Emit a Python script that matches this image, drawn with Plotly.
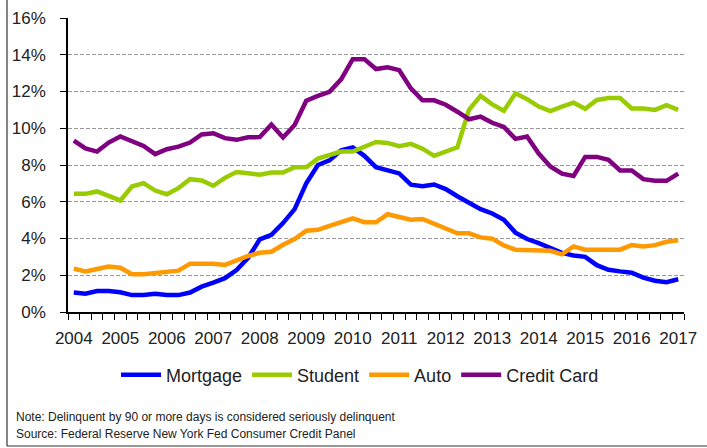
import plotly.graph_objects as go

# quarterly, 2004Q1 .. 2017Q1 (53 quarters), percent of balance 90+ days delinquent
years = [str(y) for y in range(2004, 2018)]

mortgage = [1.06, 0.99, 1.14, 1.14, 1.07, 0.92, 0.92, 0.99, 0.92, 0.92, 1.06, 1.38, 1.60,
            1.84, 2.28, 2.95, 3.95, 4.20, 4.84, 5.60, 7.00, 8.00, 8.25, 8.80, 8.95, 8.50,
            7.88, 7.70, 7.54, 6.93, 6.85, 6.94, 6.69, 6.30, 5.96, 5.60, 5.36, 5.02, 4.32,
            3.97, 3.75, 3.47, 3.22, 3.08, 3.00, 2.55, 2.30, 2.21, 2.14, 1.87, 1.70, 1.62, 1.78]
student = [6.43, 6.43, 6.56, 6.34, 6.07, 6.83, 7.01, 6.61, 6.41, 6.74, 7.23, 7.16, 6.87,
           7.30, 7.62, 7.55, 7.47, 7.59, 7.59, 7.88, 7.88, 8.35, 8.53, 8.73, 8.73, 9.00,
           9.25, 9.20, 9.02, 9.15, 8.89, 8.50, 8.72, 8.96, 11.00, 11.76, 11.30, 10.95, 11.90,
           11.58, 11.18, 10.93, 11.18, 11.39, 11.06, 11.54, 11.64, 11.64, 11.08, 11.08, 11.00, 11.26, 11.00]
auto = [2.36, 2.21, 2.34, 2.48, 2.41, 2.05, 2.05, 2.10, 2.17, 2.25, 2.63, 2.63, 2.63,
        2.56, 2.81, 3.05, 3.22, 3.28, 3.66, 3.97, 4.42, 4.47, 4.69, 4.92, 5.10, 4.89,
        4.88, 5.32, 5.17, 5.02, 5.06, 4.82, 4.54, 4.28, 4.28, 4.06, 3.99, 3.62, 3.39,
        3.39, 3.39, 3.33, 3.14, 3.57, 3.39, 3.39, 3.39, 3.39, 3.64, 3.56, 3.64, 3.82, 3.90]
credit_card = [9.33, 8.90, 8.73, 9.22, 9.55, 9.28, 9.04, 8.59, 8.86, 9.00, 9.22, 9.66, 9.73,
               9.46, 9.37, 9.51, 9.52, 10.20, 9.50, 10.18, 11.50, 11.76, 11.98, 12.66, 13.76, 13.76,
               13.22, 13.32, 13.16, 12.17, 11.52, 11.52, 11.28, 10.90, 10.49, 10.63, 10.30, 10.07, 9.42,
               9.55, 8.62, 7.92, 7.53, 7.40, 8.44, 8.44, 8.28, 7.70, 7.70, 7.23, 7.14, 7.14, 7.53]

series = [("Mortgage", mortgage, "#0000ff"),
          ("Student", student, "#99cc00"),
          ("Auto", auto, "#ff9900"),
          ("Credit Card", credit_card, "#800080")]

FONT = "Liberation Sans, Arial, sans-serif"
W, H = 707, 448
L, R, T, B = 68, 23, 18, 136
pw, ph = W - L - R, H - T - B

def px(x):
    return (x - L) / pw

def py(y):
    return (H - B - y) / ph

q = list(range(len(mortgage)))

fig = go.Figure()
for name, vals, col in series:
    fig.add_trace(go.Scatter(x=q, y=[v / 100 for v in vals], mode="lines", name=name,
                             line=dict(color=col, width=4.5)))

fig.update_layout(
    width=W, height=H,
    margin=dict(l=L, r=R, t=T, b=B),
    paper_bgcolor="white", plot_bgcolor="white",
    font=dict(family=FONT, size=17, color="#222"),
    showlegend=True,
    legend=dict(orientation="h", x=px(360), xanchor="center", y=py(375), yanchor="middle",
                font=dict(size=18), itemwidth=40, traceorder="normal"),
    xaxis=dict(range=[-0.5, len(q) - 0.5], tickvals=list(range(0, len(q), 4)), ticktext=years,
               ticks="", tickangle=0, showgrid=False, zeroline=False, showline=True,
               linecolor="black", linewidth=1.5, ticklabelstandoff=10, automargin=False,
               minor=dict(ticks="outside", tick0=-0.5, dtick=1, ticklen=6, tickcolor="black",
                          tickwidth=1.2, showgrid=False)),
    yaxis=dict(range=[0, 0.16], dtick=0.02, tickformat=".0%", ticks="outside", ticklen=6,
               tickcolor="black", showline=True, linecolor="black", linewidth=1.5,
               showgrid=True, gridcolor="#999", griddash="4px,2px", gridwidth=1,
               zeroline=False, ticklabelstandoff=11, automargin=False),
)

fig.add_annotation(xref="paper", yref="paper", x=px(14), y=py(417), xanchor="left", yanchor="middle",
                   text="Note: Delinquent by 90 or more days is considered seriously delinquent",
                   showarrow=False, font=dict(size=12))
fig.add_annotation(xref="paper", yref="paper", x=px(14), y=py(434), xanchor="left", yanchor="middle",
                   text="Source: Federal Reserve New York Fed Consumer Credit Panel",
                   showarrow=False, font=dict(size=12))

# outer frame (left and bottom edges visible in the original)
fig.add_shape(type="line", xref="paper", yref="paper", x0=px(7), x1=px(7), y0=py(0), y1=py(446),
              line=dict(color="#333", width=1.2))
fig.add_shape(type="line", xref="paper", yref="paper", x0=px(7), x1=px(707), y0=py(446), y1=py(446),
              line=dict(color="#333", width=1.2))

fig.write_html("out.html", config={"displayModeBar": False},
               post_script="document.body.style.margin='0';")
